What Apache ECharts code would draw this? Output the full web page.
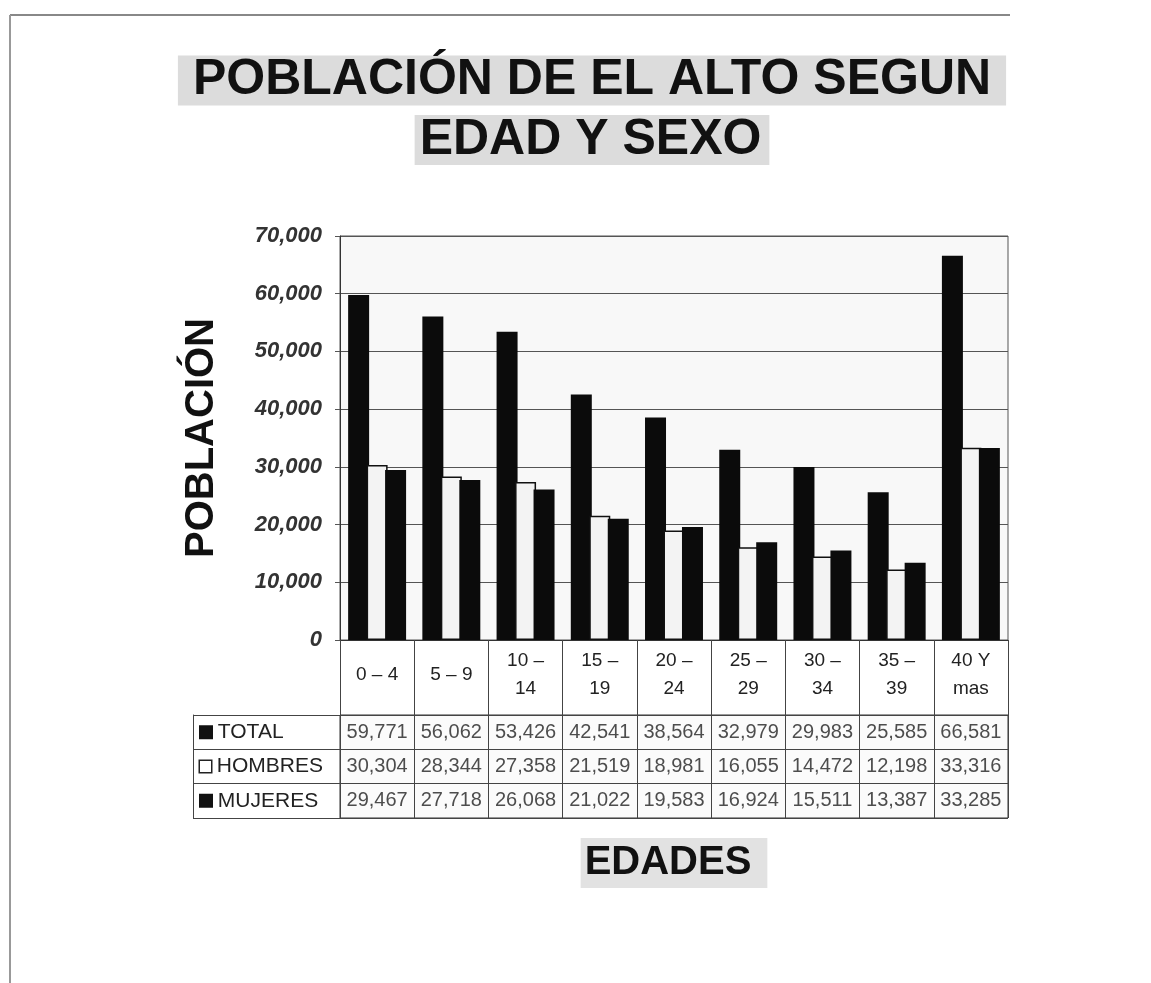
<!DOCTYPE html>
<html>
<head>
<meta charset="utf-8">
<script src="https://cdn.jsdelivr.net/npm/echarts@6/dist/echarts.min.js"></script>
<style>
html,body{margin:0;padding:0;background:#fff;}
#chart{width:1151px;height:983px;}
</style>
</head>
<body>
<div id="chart"></div>
<script>
const categories = ['0 – 4', '5 – 9', '10 –\n14', '15 –\n19', '20 –\n24', '25 –\n29', '30 –\n34', '35 –\n39', '40 Y\nmas'];
const rowNames = ['TOTAL', 'HOMBRES', 'MUJERES'];
const total = [59771, 56062, 53426, 42541, 38564, 32979, 29983, 25585, 66581];
const hombres = [30304, 28344, 27358, 21519, 18981, 16055, 14472, 12198, 33316];
const mujeres = [29467, 27718, 26068, 21022, 19583, 16924, 15511, 13387, 33285];
const yTicks = [0, 10000, 20000, 30000, 40000, 50000, 60000, 70000];

const FONT = '"Liberation Sans", Arial, sans-serif';
const fmt = v => Number(v).toLocaleString('en-US');

const rows = [total, hombres, mujeres];
const tableData = [];
rows.forEach((arr, r) => arr.forEach((v, c) => tableData.push([c, r, v])));

const chart = echarts.init(document.getElementById('chart'), null, {renderer: 'canvas'});
chart.setOption({
  backgroundColor: '#ffffff',
  animation: false,
  title: {
    left: 587, top: 47, textAlign: 'center',
    text: '{a|POBLACIÓN DE EL ALTO SEGUN}\n{b|EDAD Y SEXO}',
    textStyle: {
      rich: {
        a: {fontFamily: FONT, fontWeight: 'bold', fontSize: 50, color: '#111', lineHeight: 57,
            backgroundColor: '#dcdcdc', padding: [0, 15, 0, 15]},
        b: {fontFamily: FONT, fontWeight: 'bold', fontSize: 50, color: '#111', lineHeight: 62,
            backgroundColor: '#dcdcdc', padding: [0, 8, 0, 5]}
      }
    }
  },
  graphic: [
    {type: 'line', shape: {x1: 10, y1: 15, x2: 1010, y2: 15}, style: {stroke: '#888', lineWidth: 2}},
    {type: 'line', shape: {x1: 10, y1: 15, x2: 10, y2: 983}, style: {stroke: '#999', lineWidth: 2}}
  ],
  grid: [
    {left: 340, right: 143, top: 236, bottom: 343, show: true, backgroundColor: '#f8f8f8',
     borderColor: '#555', borderWidth: 1},
    {left: 340, right: 143, top: 715, bottom: 165, show: true, backgroundColor: '#fbfbfb',
     borderColor: '#333', borderWidth: 1}
  ],
  xAxis: [
    {type: 'category', gridIndex: 0, data: categories,
     axisLine: {show: true, lineStyle: {color: '#333', width: 1}},
     axisTick: {show: true, length: 75, lineStyle: {color: '#444', width: 1}},
     axisLabel: {fontFamily: FONT, fontSize: 19, color: '#222', lineHeight: 28,
                 margin: 35, verticalAlign: 'middle', align: 'center', interval: 0},
     splitLine: {show: false}},
    {type: 'category', gridIndex: 1, data: categories,
     axisLine: {show: false}, axisTick: {show: false}, axisLabel: {show: false},
     splitLine: {show: true, lineStyle: {color: '#444', width: 1}},
     name: 'EDADES', nameLocation: 'middle', nameGap: 20,
     nameTextStyle: {fontFamily: FONT, fontWeight: 'bold', fontSize: 40, color: '#111',
                     backgroundColor: '#e2e2e2', padding: [5, 16, 5, 4]}}
  ],
  yAxis: [
    {type: 'value', gridIndex: 0, min: 0, max: 70000, interval: 10000,
     axisLine: {show: true, lineStyle: {color: '#333', width: 1}},
     axisTick: {show: true, length: 5, lineStyle: {color: '#555'}},
     axisLabel: {fontFamily: FONT, fontSize: 22, fontStyle: 'italic', fontWeight: 'bold', color: '#333',
                 margin: 18, formatter: v => yTicks.indexOf(v) >= 0 ? fmt(v) : ''},
     splitLine: {show: true, lineStyle: {color: '#555', width: 1}},
     name: 'POBLACIÓN', nameLocation: 'middle', nameGap: 118, nameRotate: 90,
     nameTextStyle: {fontFamily: FONT, fontWeight: 'bold', fontSize: 40, color: '#111'}},
    {type: 'category', gridIndex: 1, data: rowNames, inverse: true, position: 'left',
     axisLine: {show: false},
     axisTick: {show: true, length: 147, lineStyle: {color: '#444', width: 1}},
     axisLabel: {margin: 140, align: 'left', fontFamily: FONT, fontSize: 21, color: '#222',
                 formatter: (v, i) => (i === 1 ? '{w|}' : '{k|}') + ' ' + v,
                 rich: {
                   k: {width: 12, height: 12, backgroundColor: '#111', borderColor: '#111', borderWidth: 1},
                   w: {width: 11, height: 11, backgroundColor: '#fff', borderColor: '#222', borderWidth: 1.5}
                 }},
     splitLine: {show: true, lineStyle: {color: '#444', width: 1}}},
    {type: 'category', gridIndex: 1, data: rowNames, inverse: true, position: 'left', offset: 147,
     axisLine: {show: true, lineStyle: {color: '#444', width: 1}},
     axisTick: {show: false}, axisLabel: {show: false}, splitLine: {show: false}}
  ],
  series: [
    {name: 'TOTAL', type: 'bar', xAxisIndex: 0, yAxisIndex: 0, data: total,
     barWidth: 21, barGap: '-12%', itemStyle: {color: '#0b0b0b'}},
    {name: 'HOMBRES', type: 'bar', xAxisIndex: 0, yAxisIndex: 0, data: hombres,
     barWidth: 21, barGap: '-12%', itemStyle: {color: '#f3f3f3', borderColor: '#111', borderWidth: 1.5}},
    {name: 'MUJERES', type: 'bar', xAxisIndex: 0, yAxisIndex: 0, data: mujeres,
     barWidth: 21, barGap: '-12%', itemStyle: {color: '#0b0b0b'}},
    {name: 'tabla', type: 'scatter', xAxisIndex: 1, yAxisIndex: 1, data: tableData,
     symbolSize: 0, silent: true,
     label: {show: true, position: 'inside', fontFamily: FONT, fontSize: 20, color: '#222',
             formatter: p => fmt(p.value[2])}}
  ]
});
</script>
</body>
</html>
